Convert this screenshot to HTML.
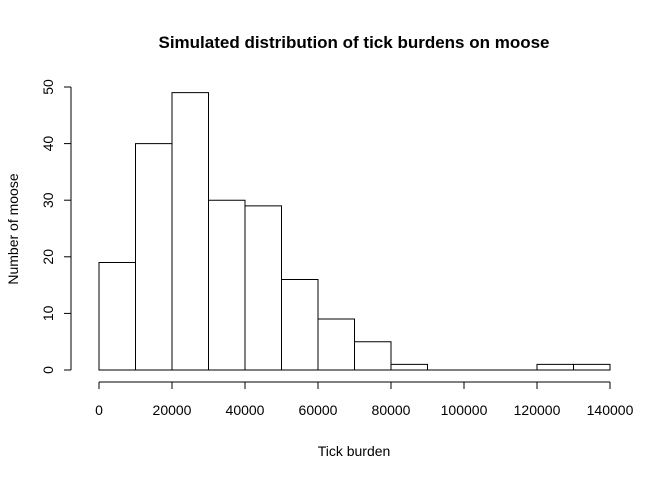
<!DOCTYPE html>
<html><head><meta charset="utf-8"><style>
body{margin:0;background:#fff}
svg{display:block;font-family:"Liberation Sans",Arial,sans-serif}
</style></head><body>
<svg id="chart" width="672" height="480" viewBox="0 0 672 480">
<text x="354" y="48" text-anchor="middle" font-size="17" font-weight="bold">Simulated distribution of tick burdens on moose</text>
<text x="354" y="456" text-anchor="middle" font-size="14">Tick burden</text>
<text transform="translate(18,229) rotate(-90)" text-anchor="middle" font-size="14">Number of moose</text>
<g id="bars"></g><g id="xaxis"></g><g id="yaxis"></g>
</svg>
<script>
const binStarts=[0,10000,20000,30000,40000,50000,60000,70000,80000,90000,100000,110000,120000,130000];
const counts=[19,40,49,30,29,16,9,5,1,0,0,0,1,1];
const binWidth=10000;
const xTicks=[0,20000,40000,60000,80000,100000,120000,140000];
const yTicks=[0,10,20,30,40,50];
const NS="http://www.w3.org/2000/svg";
const xs=v=>99+v*(511/140000);
const ys=v=>370-v*(283/50);
function mk(t,a,p){const e=document.createElementNS(NS,t);for(const k in a)e.setAttribute(k,a[k]);p.appendChild(e);return e;}
const bars=document.getElementById('bars');
binStarts.forEach((b,i)=>{
  const x0=xs(b),x1=xs(b+binWidth),y=ys(counts[i]),y0=ys(0);
  const r=mk('path',{d:`M${x0},${y0}L${x0},${y}L${x1},${y}L${x1},${y0}Z`,fill:'none',stroke:'#000','stroke-width':1},bars);
  
  
});
const xa=document.getElementById('xaxis');
const xl=mk('line',{x1:xs(xTicks[0]),x2:xs(xTicks[xTicks.length-1]),y1:382,y2:382,stroke:'#000'},xa);


xTicks.forEach(t=>{
  mk('line',{x1:xs(t),x2:xs(t),y1:382,y2:389,stroke:'#000'},xa);
  const tx=mk('text',{x:xs(t),y:415,'text-anchor':'middle','font-size':14},xa);
  tx.textContent=t;
  
  
});
const ya=document.getElementById('yaxis');
const yl=mk('line',{x1:71,x2:71,y1:ys(yTicks[0]),y2:ys(yTicks[yTicks.length-1]),stroke:'#000'},ya);


yTicks.forEach(t=>{
  mk('line',{x1:64,x2:71,y1:ys(t),y2:ys(t),stroke:'#000'},ya);
  const tx=mk('text',{transform:`translate(53,${ys(t)}) rotate(-90)`,'text-anchor':'middle','font-size':14},ya);
  tx.textContent=t;
  
  
});
</script>
</body></html>
